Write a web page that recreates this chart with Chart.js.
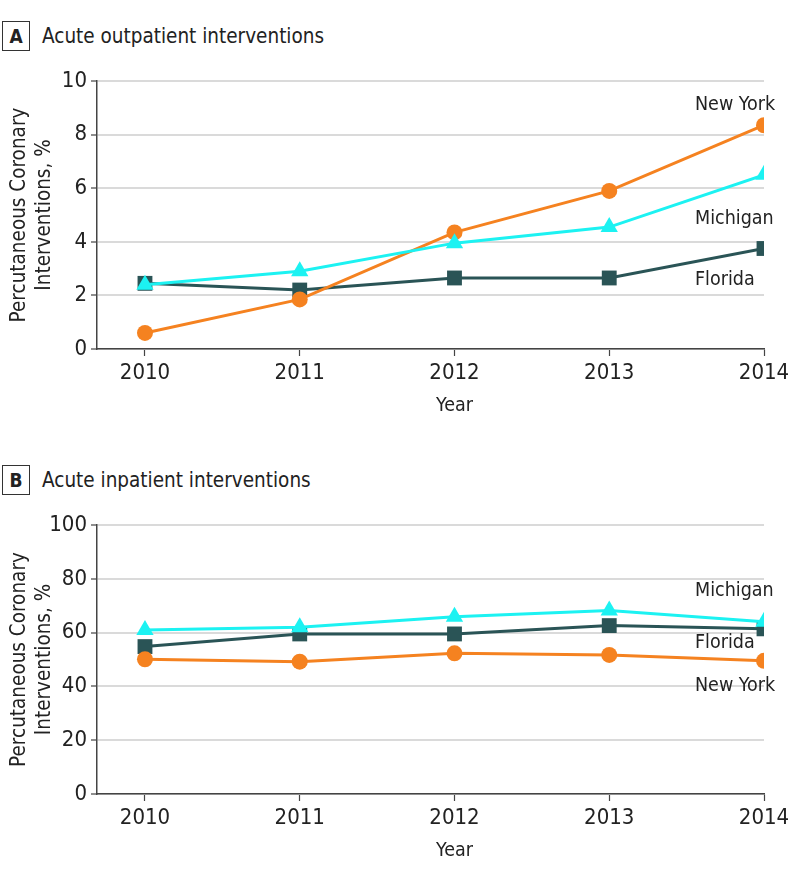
<!DOCTYPE html>
<html>
<head>
<meta charset="utf-8">
<script src="https://cdn.jsdelivr.net/npm/chart.js@4.4.1/dist/chart.umd.min.js"></script>
<style>
  html, body { margin: 0; padding: 0; background: #fff; }
  #wrap { position: relative; width: 798px; height: 879px; background: #fff; overflow: hidden; }
  canvas { position: absolute; left: 0; }
  .ptitle { position: absolute; left: 2px; font-family: "DejaVu Sans Condensed", "Noto Sans", sans-serif; font-size: 20.5px; color: #222; white-space: nowrap; }
  .ptitle .box { display: inline-block; width: 26px; height: 28px; line-height: 28px; border: 1.5px solid #333; text-align: center; font-weight: bold; font-size: 19px; margin-right: 12px; vertical-align: middle; }
  .ptitle .txt { vertical-align: middle; }
</style>
</head>
<body>
<div id="wrap">
  <div class="ptitle" style="top:21px"><span class="box">A</span><span class="txt">Acute outpatient interventions</span></div>
  <div class="ptitle" style="top:465px"><span class="box">B</span><span class="txt">Acute inpatient interventions</span></div>
  <canvas id="cA" width="798" height="440" style="top:0px"></canvas>
  <canvas id="cB" width="798" height="439" style="top:440px"></canvas>
</div>
<script>
const years = [2010, 2011, 2012, 2013, 2014];

const outpatientFlorida  = [2.45, 2.2, 2.65, 2.65, 3.75];
const outpatientMichigan = [2.4, 2.9, 3.95, 4.55, 6.5];
const outpatientNewYork  = [0.6, 1.85, 4.35, 5.9, 8.35];

const inpatientFlorida  = [54.8, 59.5, 59.5, 62.6, 61.4];
const inpatientMichigan = [61.0, 62.0, 65.9, 68.2, 64.0];
const inpatientNewYork  = [50.1, 49.2, 52.3, 51.7, 49.5];

const outpatientTicks = [0, 2, 4, 6, 8, 10];
const inpatientTicks  = [0, 20, 40, 60, 80, 100];

const seriesNames = ['Michigan', 'New York', 'Florida'];

const FONT = '"DejaVu Sans Condensed", "Noto Sans", sans-serif';
const TXT = '#222222';
const COLORS = { 'Michigan': '#1CF2F2', 'New York': '#F58220', 'Florida': '#2A5456' };
const SHAPES = { 'Michigan': 'triangle', 'New York': 'circle', 'Florida': 'rect' };
const RADII = { 'Michigan': 10, 'New York': 8, 'Florida': 10.5 };

const textPlugin = {
  id: 'textPlugin',
  afterDraw(chart, args, opts) {
    const ctx = chart.ctx;
    const x = chart.scales.x, y = chart.scales.y;
    const area = chart.chartArea;
    ctx.save();
    ctx.fillStyle = TXT;
    // series labels
    ctx.font = '19.5px ' + FONT;
    ctx.textAlign = 'left';
    ctx.textBaseline = 'middle';
    opts.labels.forEach(l => {
      ctx.fillText(l.text, x.getPixelForValue(years[years.length - 1]) - 69, y.getPixelForValue(l.value));
    });
    // x axis title
    ctx.textAlign = 'center';
    ctx.fillText('Year', x.getPixelForValue(years[2]), area.bottom + 57);
    // y axis title
    ctx.font = '20.5px ' + FONT;
    ctx.translate(0, (area.top + area.bottom) / 2);
    ctx.rotate(-Math.PI / 2);
    ctx.fillText('Percutaneous Coronary', 0, 20);
    ctx.fillText('Interventions, %', 0, 45);
    ctx.restore();
  }
};

function ds(name, values) {
  return {
    label: name,
    data: years.map((yr, i) => ({ x: yr, y: values[i] })),
    borderColor: COLORS[name],
    backgroundColor: COLORS[name],
    pointBackgroundColor: COLORS[name],
    pointBorderColor: COLORS[name],
    pointBorderWidth: 0,
    pointStyle: SHAPES[name],
    pointRadius: RADII[name],
    borderWidth: 3,
    tension: 0
  };
}

function makeChart(id, seriesValues, ticks, labels, xAxisHeight, topPad) {
  const maxV = ticks[ticks.length - 1];
  return new Chart(document.getElementById(id), {
    type: 'line',
    data: { datasets: seriesNames.map((n, i) => ds(n, seriesValues[i])) },
    options: {
      responsive: false,
      animation: false,
      events: [],
      layout: { padding: { top: topPad, right: 34, left: 0, bottom: 0 } },
      plugins: { legend: { display: false }, tooltip: { enabled: false }, textPlugin: { labels } },
      scales: {
        x: {
          type: 'linear',
          min: years[0] - 0.31,
          max: years[years.length - 1],
          afterBuildTicks: s => { s.ticks = years.map(v => ({ value: v })); },
          afterFit: s => { s.height = xAxisHeight; },
          grid: { drawOnChartArea: false, drawTicks: true, tickLength: 7, tickColor: '#444', tickWidth: 1.2 },
          border: { display: true, color: '#444', width: 1.5 },
          ticks: { color: TXT, font: { family: FONT, size: 22 }, padding: 4, maxRotation: 0, callback: v => String(v) }
        },
        y: {
          min: 0,
          max: maxV,
          afterBuildTicks: s => { s.ticks = ticks.map(v => ({ value: v })); },
          afterFit: s => { s.width = 97; },
          grid: { color: '#dadada', lineWidth: 2, drawTicks: true, tickLength: 6, tickColor: '#444', tickWidth: 1.2 },
          border: { display: true, color: '#444', width: 1.5 },
          ticks: { color: TXT, font: { family: FONT, size: 22 }, padding: 4 }
        }
      }
    },
    plugins: [textPlugin]
  });
}

function build() {
  makeChart('cA', [outpatientMichigan, outpatientNewYork, outpatientFlorida], outpatientTicks,
    [{ text: 'New York', value: 9.1 }, { text: 'Michigan', value: 4.85 }, { text: 'Florida', value: 2.57 }], 91, 81);
  makeChart('cB', [inpatientMichigan, inpatientNewYork, inpatientFlorida], inpatientTicks,
    [{ text: 'Michigan', value: 75.5 }, { text: 'Florida', value: 56.1 }, { text: 'New York', value: 40.1 }], 85, 85);
}
if (document.fonts && document.fonts.load) {
  document.fonts.load('22px "DejaVu Sans Condensed"').then(build, build);
} else { build(); }
</script>
</body>
</html>
